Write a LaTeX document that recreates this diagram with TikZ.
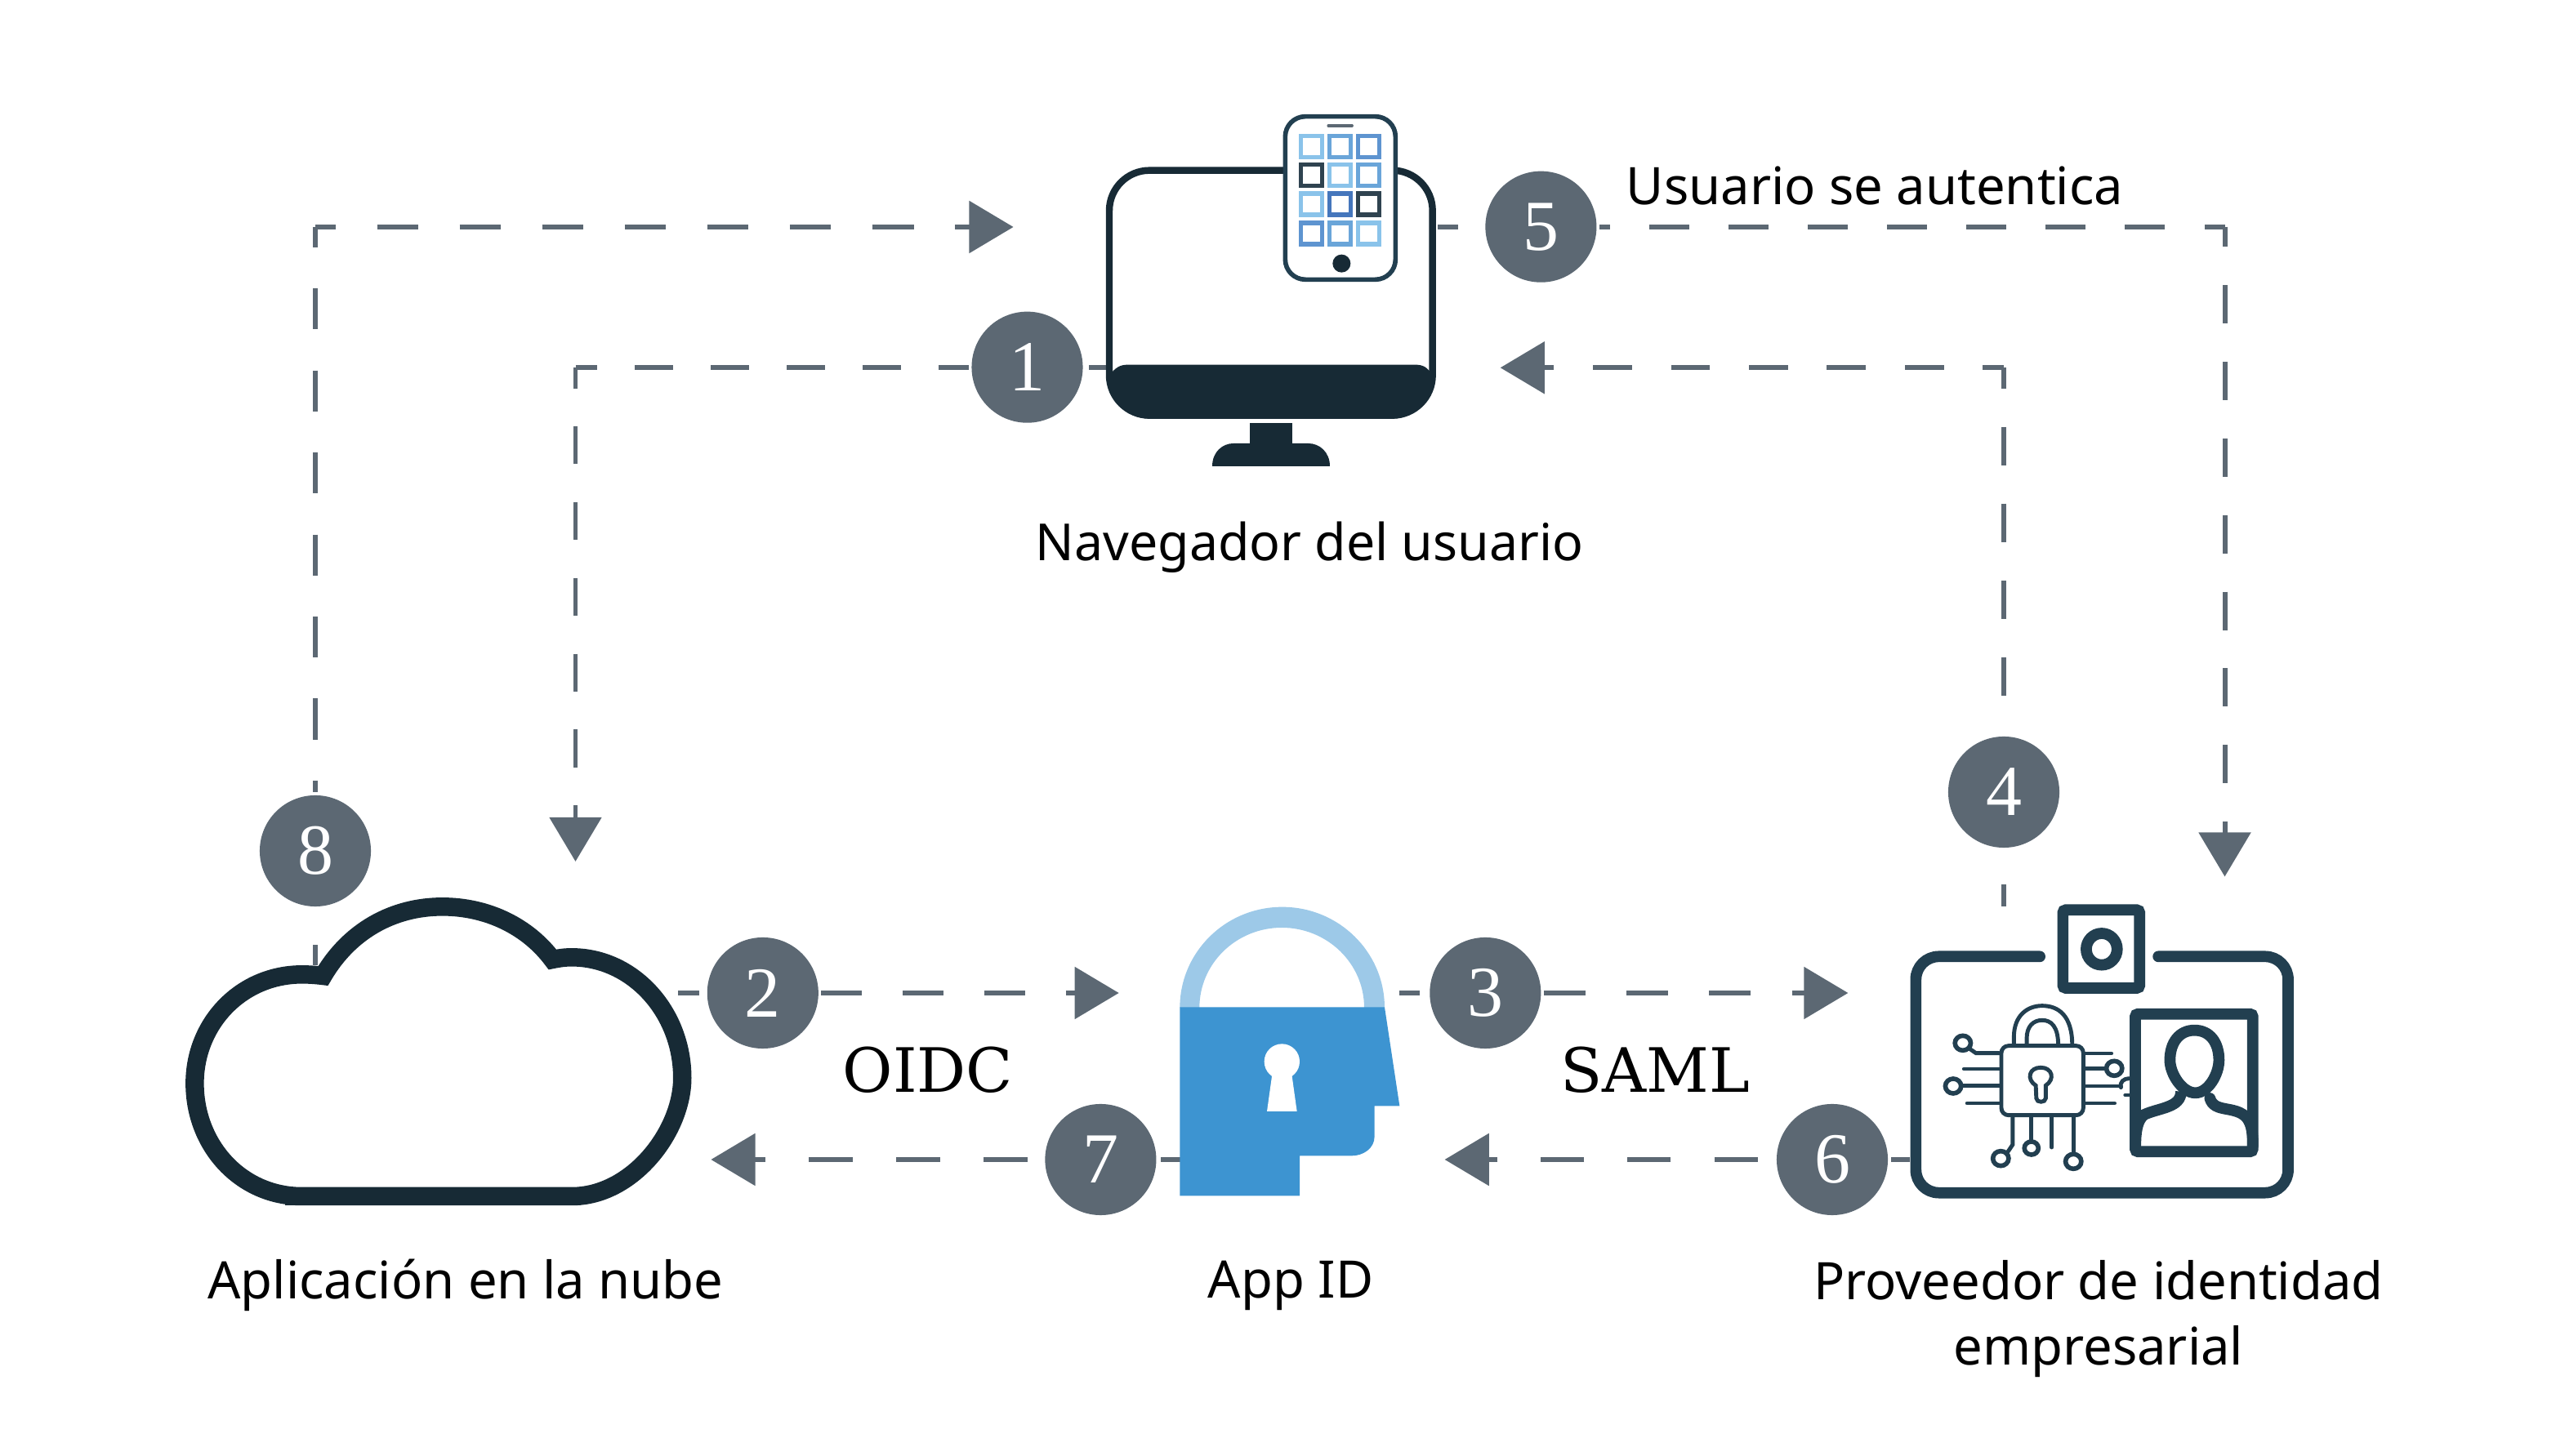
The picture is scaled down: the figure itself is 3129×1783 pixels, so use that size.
\documentclass[tikz,border=0pt]{standalone}
\usepackage{fontspec}
\newfontfamily\labelfont{Noto Sans}
\newfontfamily\protofont{DejaVu Serif}
\newfontfamily\stepfont{Liberation Serif}
\usetikzlibrary{arrows.meta}
\definecolor{stepgrey}{HTML}{5C6873}
\definecolor{screendark}{HTML}{172A35}
\definecolor{carddark}{HTML}{223F50}
\definecolor{locklight}{HTML}{9DC9E8}
\definecolor{lockblue}{HTML}{3D94D1}
\definecolor{applight}{HTML}{8AC3EA}
\definecolor{appmid}{HTML}{6AA5D9}
\definecolor{appblue}{HTML}{5E94D0}
\definecolor{appdeep}{HTML}{4576BC}
\definecolor{appdark}{HTML}{2F4350}
\tikzset{
	stepdot/.style={circle,fill=stepgrey,text=white,minimum size=38.7pt,inner sep=0pt,outer sep=1pt,font=\stepfont\fontsize{25}{27}\selectfont},
	flow/.style 2 args={draw=stepgrey,line width=1.7pt,dash pattern=on #1 off #1,dash phase=#2},
	flowtip/.style 2 args={flow={#1}{#2},-{Triangle[length=15.4pt,width=17.9pt]}},
	caption/.style={align=center,font=\labelfont\fontsize{18}{22.8}\selectfont,inner sep=0pt},
	protocol/.style={font=\protofont\fontsize{21.3}{24}\selectfont,inner sep=0pt},
	appsquare/.style={line width=1.45pt,fill=white},
	wire/.style={draw=carddark,line width=1.4pt,line cap=round},
	wirering/.style={draw=carddark,line width=1.6pt,fill=white},
	cardline/.style={draw=carddark,line width=3.9pt},
}
\begin{document}
\begin{tikzpicture}[x=.01cm,y=-.01cm]
	\useasboundingbox (0,0) rectangle (3129,1783);
	\coordinate (mon1) at (1354,449.7);
	\coordinate (mon5) at (1760,277.7);
	\coordinate (corner1) at (704.5,449.7);
	\coordinate (corner4) at (2453,450.3);
	\coordinate (corner5) at (2723.5,277.7);
	\coordinate (corner8) at (386,278);
	\coordinate (tip1) at (704.5,1055);
	\coordinate (tip2) at (1369.7,1216);
	\coordinate (tip3) at (2262.4,1216);
	\coordinate (tip4) at (1836.7,450.3);
	\coordinate (tip5) at (2723.5,1073.5);
	\coordinate (tip6) at (1768.6,1420);
	\coordinate (tip7) at (870.4,1420);
	\coordinate (tip8) at (1240.6,278);
	\coordinate (cloud2) at (830,1216);
	\coordinate (cloud8) at (386,1182);
	\coordinate (lock3) at (1713,1216);
	\coordinate (lock7) at (1446.3,1420);
	\coordinate (card4) at (2453,1110);
	\coordinate (card6) at (2338,1420);
	%
	\node[stepdot] (step1) at (1257.5,449.7) {1};
	\node[stepdot] (step2) at (933.8,1216) {2};
	\node[stepdot] (step3) at (1818.3,1216) {3};
	\node[stepdot] (step4) at (2453,970) {4};
	\node[stepdot] (step5) at (1886.4,277.7) {5};
	\node[stepdot] (step6) at (2243,1420) {6};
	\node[stepdot] (step7) at (1347.4,1420) {7};
	\node[stepdot] (step8) at (386,1042) {8};
	%
	\draw[flow={13.23pt}{7.25pt}] (mon1) -- (step1);
	\draw[flow={13.23pt}{5.83pt}] (corner1) -- (step1);
	\draw[flowtip={13.2pt}{5.83pt}] (corner1) -- (tip1);
	\draw[flow={14.2pt}{6.9pt}] (cloud2) -- (step2);
	\draw[flowtip={14.2pt}{0pt}] (step2) -- (tip2);
	\draw[flow={14.4pt}{7.2pt}] (lock3) -- (step3);
	\draw[flowtip={14.4pt}{0pt}] (step3) -- (tip3);
	\draw[flow={13.37pt}{5.7pt}] (card4) -- (step4);
	\draw[flow={13.37pt}{6.15pt}] (corner4) -- (step4);
	\draw[flowtip={13.57pt}{6.26pt}] (corner4) -- (tip4);
	\draw[flow={13.8pt}{6.7pt}] (mon5) -- (step5);
	\draw[flow={13.8pt}{6.7pt}] (corner5) -- (step5);
	\draw[flowtip={13.34pt}{6.3pt}] (corner5) -- (tip5);
	\draw[flow={15.08pt}{0pt}] (card6) -- (step6);
	\draw[flowtip={15.08pt}{24.5pt}] (step6) -- (tip6);
	\draw[flow={15.2pt}{8pt}] (lock7) -- (step7);
	\draw[flowtip={15.2pt}{25.2pt}] (step7) -- (tip7);
	\draw[flow={14.37pt}{7.25pt}] (cloud8) -- (step8);
	\draw[flow={14.28pt}{7.15pt}] (corner8) -- (step8);
	\draw[flowtip={14.37pt}{7.25pt}] (corner8) -- (tip8);
	%
	\begin{scope}[shift={(1300,100)},scale=1/3]
		\draw[screendark,line width=2.4pt,rounded corners=14pt] (174,326) rectangle (1361,1226);
		\fill[screendark] (174,1080) .. controls (195,1050) and (215,1040) .. (240,1040) -- (1300,1040) .. controls (1325,1040) and (1345,1050) .. (1361,1080)
			-- (1361,1090) .. controls (1361,1170) and (1290,1238) .. (1215,1238) -- (320,1238) .. controls (240,1238) and (174,1170) .. (174,1090) -- cycle;
		\fill[screendark] (690,1255) rectangle (845,1340);
		\fill[screendark] (552,1413) .. controls (552,1360) and (590,1329) .. (630,1329) -- (905,1329) .. controls (945,1329) and (984,1360) .. (984,1413) -- cycle;
		\draw[draw=carddark,line width=1.6pt,fill=white,rounded corners=7pt] (820,128) rectangle (1225,727);
		\draw[line width=.9pt,draw=stepgrey,line cap=round] (978,162) -- (1066,162);
		\draw[appsquare,draw=applight] (877,200) rectangle (955,278);
		\draw[appsquare,draw=appmid] (983,200) rectangle (1061,278);
		\draw[appsquare,draw=appblue] (1088,200) rectangle (1166,278);
		\draw[appsquare,draw=appdark] (877,305) rectangle (955,383);
		\draw[appsquare,draw=applight] (983,305) rectangle (1061,383);
		\draw[appsquare,draw=appmid] (1088,305) rectangle (1166,383);
		\draw[appsquare,draw=applight] (877,411) rectangle (955,489);
		\draw[appsquare,draw=appdeep] (983,411) rectangle (1061,489);
		\draw[appsquare,draw=appdark] (1088,411) rectangle (1166,489);
		\draw[appsquare,draw=appblue] (877,519) rectangle (955,597);
		\draw[appsquare,draw=appmid] (983,519) rectangle (1061,597);
		\draw[appsquare,draw=applight] (1088,519) rectangle (1166,597);
		\fill[screendark] (1027,668) circle[radius=33];
	\end{scope}
	%
	\begin{scope}[shift={(200,1060)},xscale=1/2.24,yscale=1/3]
		\draw[screendark,line width=6.4pt] (380,1215) -- (1120,1215)
			.. controls (1287,1215) and (1423,976) .. (1423,780)
			.. controls (1423,537) and (1287,337) .. (1120,337)
			.. controls (1100,337) and (1085,340) .. (1067,345)
			.. controls (1000,225) and (890,151) .. (765,151)
			.. controls (630,151) and (510,240) .. (438,405)
			.. controls (420,402) and (400,400) .. (380,400)
			.. controls (213,400) and (86,580) .. (86,800)
			.. controls (86,1030) and (213,1215) .. (380,1215) -- cycle;
		\fill[screendark] (333,1200) rectangle (1145,1248);
	\end{scope}
	%
	\begin{scope}[shift={(1400,1080)},scale=1/3]
		\fill[locklight] (133,462) arc[start angle=180,end angle=360,x radius=376,y radius=370]
			-- (810,462) arc[start angle=360,end angle=180,x radius=302.5,y radius=294] -- cycle;
		\fill[lockblue] (133,460) -- (885,460) -- (940,823) -- (848,823) -- (848,935)
			.. controls (848,980) and (805,1006) .. (765,1006) -- (573,1006) -- (573,1153) -- (133,1153) -- cycle;
		\fill[white] (508,660) circle[radius=65];
		\fill[white] (473,700) -- (543,700) -- (563,843) -- (453,843) -- cycle;
	\end{scope}
	%
	\begin{scope}[shift={(2300,1080)},xscale=1/2.8,yscale=1/3]
		\draw[cardline,line cap=round,rounded corners=8pt] (552,274) -- (127,274) -- (127,1142) -- (1403,1142) -- (1403,274) -- (958,274);
		\draw[cardline,rounded corners=1pt] (631,103) rectangle (894,390);
		\draw[cardline] (764,247) ellipse[x radius=53,y radius=58];
		\draw[cardline,rounded corners=1pt] (879,485) rectangle (1282,991);
		\draw[cardline] (1082,545) .. controls (1030,545) and (998,590) .. (998,655)
			.. controls (998,705) and (1040,775) .. (1085,775)
			.. controls (1130,775) and (1166,705) .. (1166,655)
			.. controls (1166,590) and (1135,545) .. (1082,545) -- cycle;
		\draw[cardline] (1036,770) .. controls (1036,830) and (960,830) .. (910,855) .. controls (885,875) and (880,920) .. (880,970);
		\draw[cardline,line cap=round] (1135,795) .. controls (1150,850) and (1220,820) .. (1260,865) .. controls (1280,890) and (1282,930) .. (1282,970);
		\draw[wire,rounded corners=2.5pt] (420,602) rectangle (701,857);
		\draw[wire] (463,600) -- (463,570) .. controls (463,490) and (510,455) .. (560,455) .. controls (615,455) and (663,490) .. (663,600);
		\draw[wire] (507,600) -- (507,575) .. controls (507,530) and (530,508) .. (560,508) .. controls (590,508) and (615,530) .. (615,600);
		\draw[wire] (538,748) .. controls (505,725) and (515,682) .. (555,682) .. controls (595,682) and (605,725) .. (572,748) -- (572,795) .. controls (572,812) and (540,812) .. (540,795) -- cycle;
		\draw[wire] (413,629) -- (333,629) -- (310,612);
		\draw[wire] (413,687) -- (292,687);
		\draw[wire] (413,749) -- (285,749);
		\draw[wire] (413,813) -- (303,813);
		\draw[wire] (708,630) -- (797,630);
		\draw[wire] (708,686) -- (780,686);
		\draw[wire] (708,750) -- (830,750);
		\draw[wire] (708,813) -- (808,813);
		\draw[wire] (830,755) .. controls (825,735) and (840,722) .. (858,722);
		\draw[wire] (845,783) -- (858,783);
		\draw[wire] (459,865) -- (459,965) -- (440,995);
		\draw[wire] (523,865) -- (523,950);
		\draw[wire] (593,865) -- (593,975);
		\draw[wire] (667,865) -- (667,995);
		\draw[wirering] (288,592) circle[radius=27];
		\draw[wirering] (255,750) circle[radius=27];
		\draw[wirering] (807,685) circle[radius=27];
		\draw[wirering] (418,1016) circle[radius=27];
		\draw[wirering] (523,978) circle[radius=24];
		\draw[wirering] (667,1027) circle[radius=27];
	\end{scope}
	%
	\node[caption,font=\labelfont\fontsize{17.8}{22.8}\selectfont] (browserlabel) at (1603,670) {Navegador del usuario};
	\node[caption] (authlabel) at (2295,228) {Usuario se autentica};
	\node[caption] (cloudlabel) at (570,1574) {Aplicación en la nube};
	\node[caption] (applabel) at (1580,1574) {App ID};
	\node[caption] (idplabel) at (2569,1615) {Proveedor de identidad\\empresarial};
	\node[protocol] (oidclabel) at (1136,1310) {OIDC};
	\node[protocol] (samllabel) at (2026,1310) {SAML};
\end{tikzpicture}
\end{document}
